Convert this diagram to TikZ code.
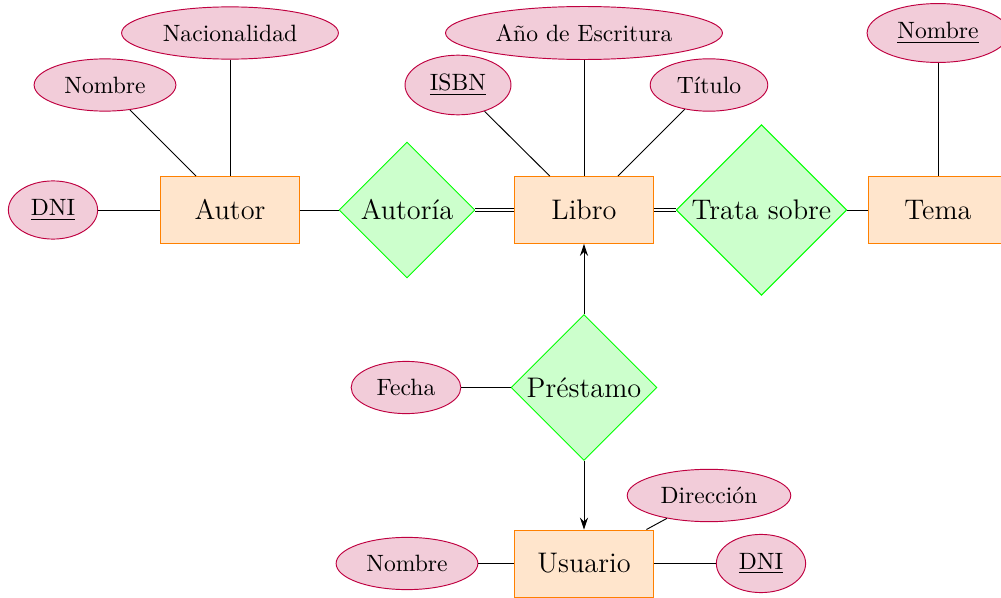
\documentclass[tikz,border=0pt]{standalone}
\usetikzlibrary{shapes.geometric,arrows.meta}
\begin{document}
\begin{tikzpicture}[x=0.4237pt,y=-0.4237pt,
  entity/.style={rectangle,draw=orange,fill=orange!20,font=\large,minimum width=58.5pt,minimum height=28.4pt,inner sep=0pt},
  attr/.style={ellipse,draw=purple,fill=purple!20,inner xsep=4pt,inner ysep=4.3pt},
  rel/.style={diamond,draw=green,fill=green!20,font=\large,inner sep=0pt,aspect=1},
  dbl/.style={double,double distance=0.8pt},
  arr/.style={-{Stealth[length=5pt,width=3.4pt,inset=1.6pt]}}]
\clip (0,0) rectangle (1001,598);
% entities
\node[entity] (autor) at (230,210) {Autor};
\node[entity] (libro) at (584,210) {Libro};
\node[entity] (tema) at (938,210) {Tema};
\node[entity] (usuario) at (584,563.5) {Usuario};
% relations
\node[rel,minimum width=57.6pt,minimum height=57.6pt] (autoria) at (407,210) {Autoría};
\node[rel,minimum width=72.3pt,minimum height=72.3pt] (trata) at (761.5,210) {Trata sobre};
\node[rel,minimum width=61.8pt,minimum height=61.8pt] (prestamo) at (584,387.5) {Préstamo};
% attributes
\node[attr] (dni1) at (53,210) {\underline{DNI}};
\node[attr] (nombre1) at (105,85) {Nombre};
\node[attr] (nac) at (230,33) {Nacionalidad};
\node[attr] (isbn) at (458,85) {\underline{ISBN}};
\node[attr] (anio) at (584,33) {Año de Escritura};
\node[attr] (titulo) at (709,85) {Título};
\node[attr] (nombret) at (938,33) {\underline{Nombre}};
\node[attr] (fecha) at (406,387.5) {Fecha};
\node[attr] (dir) at (709,495.5) {Dirección};
\node[attr] (nombre3) at (407,563.5) {Nombre};
\node[attr] (dni2) at (761,563.5) {\underline{DNI}};
% connectors
\draw (dni1) -- (autor);
\draw (nombre1) -- (autor);
\draw (nac) -- (autor);
\draw (autor) -- (autoria);
\draw[dbl] (autoria) -- (libro);
\draw (isbn) -- (libro);
\draw (anio) -- (libro);
\draw (titulo) -- (libro);
\draw[dbl] (libro) -- (trata);
\draw (trata) -- (tema);
\draw (nombret) -- (tema);
\draw[arr] (prestamo) -- (libro);
\draw[arr] (prestamo) -- (usuario);
\draw (fecha) -- (prestamo);
\draw (dir) -- (usuario);
\draw (nombre3) -- (usuario);
\draw (dni2) -- (usuario);
\end{tikzpicture}
\end{document}
